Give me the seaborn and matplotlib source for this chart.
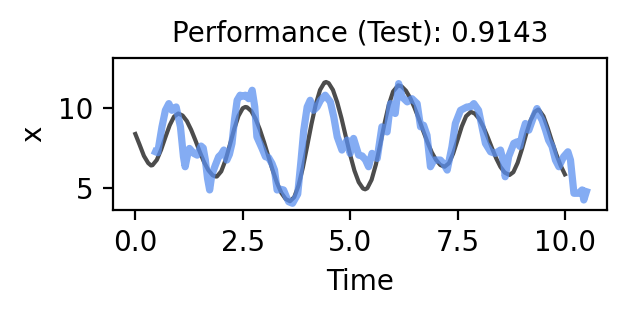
import matplotlib
matplotlib.use("Agg")
import matplotlib.pyplot as plt
import seaborn as sns
import pandas as pd

# True signal (dark gray)
true_time = [0.0, 0.1, 0.2, 0.3, 0.365, 0.4, 0.5, 0.6, 0.7, 0.8, 0.9, 1.0,
             1.1, 1.2, 1.3, 1.4, 1.5, 1.6, 1.7, 1.8, 1.88, 1.9, 2.0, 2.1, 2.2,
             2.3, 2.4, 2.5, 2.56, 2.6, 2.7, 2.8, 2.9, 3.0, 3.1, 3.2, 3.3, 3.4,
             3.5, 3.6, 3.7, 3.8, 3.9, 4.0, 4.1, 4.2, 4.3, 4.4, 4.44, 4.5, 4.6,
             4.7, 4.8, 4.9, 5.0, 5.1, 5.2, 5.3, 5.35, 5.4, 5.5, 5.6, 5.7, 5.8,
             5.9, 6.0, 6.12, 6.2, 6.3, 6.4, 6.5, 6.6, 6.7, 6.8, 6.9, 7.0, 7.1,
             7.2, 7.3, 7.4, 7.5, 7.6, 7.7, 7.81, 7.9, 8.0, 8.1, 8.2, 8.3, 8.4,
             8.5, 8.6, 8.71, 8.8, 8.9, 9.0, 9.1, 9.2, 9.3, 9.38, 9.4, 9.5, 9.6,
             9.7, 9.8, 9.9, 10.0]
true_x = [8.38, 7.7, 7.0, 6.55, 6.4, 6.42, 6.75, 7.39, 8.18, 8.93, 9.47, 9.67,
          9.54, 9.19, 8.64, 7.97, 7.26, 6.61, 6.10, 5.78, 5.7, 5.71, 6.03, 6.74, 7.69,
          8.68, 9.51, 10.0, 10.08, 10.06, 9.82, 9.33, 8.65, 7.83, 6.94, 6.07, 5.29, 4.67,
          4.29, 4.15, 4.41, 5.15, 6.27, 7.62, 9.0, 10.24, 11.15, 11.61, 11.65, 11.58, 11.15,
          10.37, 9.36, 8.21, 7.08, 6.08, 5.35, 4.95, 4.9, 4.97, 5.5, 6.46, 7.71, 9.03,
          10.21, 11.05, 11.44, 11.37, 11.1, 10.64, 10.03, 9.33, 8.58, 7.87, 7.23, 6.75, 6.43,
          6.32, 6.54, 7.16, 8.0, 8.86, 9.5, 9.77, 9.67, 9.35, 8.84, 8.2, 7.51, 6.85,
          6.31, 5.95, 5.8, 5.98, 6.57, 7.43, 8.39, 9.23, 9.78, 9.92, 9.88, 9.5, 8.75,
          7.9, 7.1, 6.4, 5.84]

# Prediction (blue)
pred_time = [0.47, 0.52, 0.62, 0.70, 0.78, 0.85, 0.90, 0.95, 1.05, 1.12, 1.16, 1.21,
             1.26, 1.36, 1.44, 1.53, 1.58, 1.63, 1.68, 1.73, 1.78, 1.86, 1.94, 2.00,
             2.06, 2.13, 2.19, 2.25, 2.31, 2.37, 2.44, 2.50, 2.56, 2.64, 2.72, 2.78,
             2.83, 2.95, 3.03, 3.10, 3.18, 3.24, 3.30, 3.38, 3.45, 3.52, 3.57, 3.66,
             3.78, 3.86, 3.92, 4.00, 4.07, 4.15, 4.23, 4.31, 4.42, 4.54, 4.62, 4.70,
             4.81, 4.93, 5.00, 5.08, 5.20, 5.28, 5.36, 5.43, 5.51, 5.63, 5.74, 5.82,
             5.86, 5.94, 5.98, 6.05, 6.13, 6.21, 6.33, 6.44, 6.56, 6.64, 6.71, 6.79,
             6.87, 6.95, 7.10, 7.18, 7.26, 7.37, 7.45, 7.57, 7.72, 7.80, 7.88, 7.99,
             8.07, 8.15, 8.27, 8.38, 8.50, 8.58, 8.61, 8.69, 8.81, 8.89, 8.95, 9.02,
             9.08, 9.16, 9.27, 9.35, 9.43, 9.47, 9.55, 9.62, 9.70, 9.78, 9.86, 9.97,
             10.07, 10.13, 10.21, 10.32, 10.40, 10.44, 10.50]
pred_x = [7.26, 7.2, 8.83, 9.87, 10.29, 9.87, 10.0, 10.08, 8.83, 6.95, 6.32, 7.0,
          7.47, 7.16, 7.05, 7.62, 7.5, 6.74, 5.6, 4.86, 5.8, 6.4, 6.95, 7.1,
          7.37, 6.74, 7.1, 7.79, 9.3, 10.5, 10.82, 10.75, 10.82, 10.6, 11.13, 10.08,
          8.2, 7.47, 6.95, 6.9, 6.53, 6.11, 4.86, 4.9, 4.86, 4.4, 4.12, 4.02,
          4.6, 6.8, 8.6, 10.08, 10.5, 9.87, 10.08, 10.5, 10.82, 10.4, 9.45, 8.2,
          7.37, 8.0, 7.16, 8.1, 7.05, 7.0, 6.74, 6.32, 7.16, 6.84, 8.83, 8.62,
          8.51, 10.29, 10.08, 9.67, 11.55, 10.71, 10.4, 10.6, 10.29, 8.83, 8.93, 8.3,
          6.32, 6.74, 6.74, 6.5, 6.11, 7.57, 9.04, 9.87, 10.08, 10.08, 10.29, 9.87,
          8.83, 7.79, 7.26, 7.16, 7.37, 6.53, 5.69, 6.95, 7.79, 7.89, 7.6, 8.5,
          9.04, 8.62, 9.45, 9.98, 9.45, 9.25, 8.62, 7.99, 7.6, 6.74, 6.32, 6.95,
          7.26, 6.74, 4.65, 4.65, 4.86, 4.23, 4.75]

title_text = "Performance (Test): 0.9143"
x_ticks = [0.0, 2.5, 5.0, 7.5, 10.0]
y_ticks = [5, 10]

true_df = pd.DataFrame({"Time": true_time, "x": true_x})
pred_df = pd.DataFrame({"Time": pred_time, "x": pred_x})

fig = plt.figure(figsize=(3.14, 1.575), dpi=200)
ax = fig.add_axes([113 / 628, 1 - 209.5 / 315, (607 - 113) / 628, (209.5 - 58) / 315])

sns.lineplot(data=true_df, x="Time", y="x", ax=ax, color="black", alpha=0.7,
             linewidth=1.5, sort=False)
sns.lineplot(data=pred_df, x="Time", y="x", ax=ax, color="#5b90f0", alpha=0.75,
             linewidth=2.6, sort=False)

ax.set_xlim(-0.52, 10.98)
ax.set_ylim(3.63, 13.16)
ax.set_xticks(x_ticks)
ax.set_yticks(y_ticks)
ax.set_xlabel("Time", fontsize=10)
ax.set_ylabel("x", fontsize=10)
ax.set_title(title_text, fontsize=10)
ax.tick_params(labelsize=10)

fig.savefig("out.png", dpi=200)
